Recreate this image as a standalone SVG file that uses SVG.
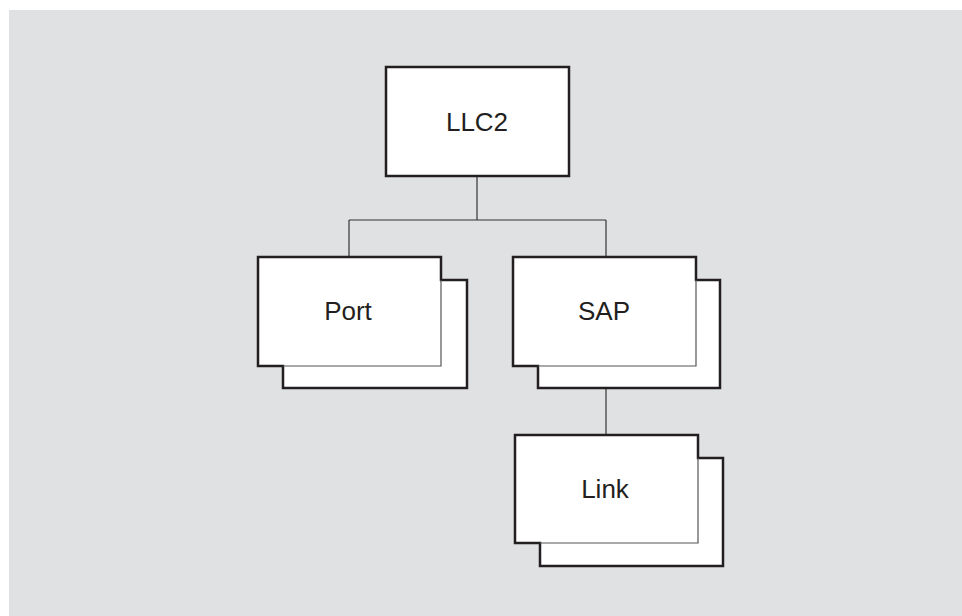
<svg xmlns="http://www.w3.org/2000/svg" width="962" height="616" viewBox="0 0 962 616">
<style>
.bg{fill:#e0e1e3}
.box{fill:#ffffff;stroke:#231f20;stroke-width:2.5;stroke-linejoin:miter}
.thin{fill:none;stroke:#555555;stroke-width:1.2}
.conn{fill:none;stroke:#333333;stroke-width:1.2}
.lbl{font-family:"Liberation Sans",Arial,sans-serif;font-size:26px;fill:#231f20;text-anchor:middle}
</style>
<rect x="0" y="0" width="962" height="616" fill="#ffffff"/>
<rect class="bg" x="9" y="10" width="953" height="606"/>
<g id="connectors">
<line class="conn" x1="477" y1="176" x2="477" y2="220"/>
<line class="conn" x1="349" y1="220" x2="606" y2="220"/>
<line class="conn" x1="349" y1="220" x2="349" y2="257"/>
<line class="conn" x1="606" y1="220" x2="606" y2="257"/>
<line class="conn" x1="606" y1="388" x2="606" y2="435"/>
</g>
<g id="llc2">
<rect class="box" x="386" y="67" width="183" height="109"/>
<text class="lbl" x="477" y="131">LLC2</text>
</g>
<g id="port">
<path class="box" d="M258,257 H441 V280 H467 V388 H283 V366 H258 Z"/>
<path class="thin" d="M441,280 V366 H283"/>
<text class="lbl" x="348" y="320">Port</text>
</g>
<g id="sap">
<path class="box" d="M513,257 H696 V280 H720 V388 H538 V366 H513 Z"/>
<path class="thin" d="M696,280 V366 H538"/>
<text class="lbl" x="604" y="320">SAP</text>
</g>
<g id="link">
<path class="box" d="M515,435 H698 V458 H723 V566 H540 V543 H515 Z"/>
<path class="thin" d="M698,458 V543 H540"/>
<text class="lbl" x="605" y="498">Link</text>
</g>
</svg>
